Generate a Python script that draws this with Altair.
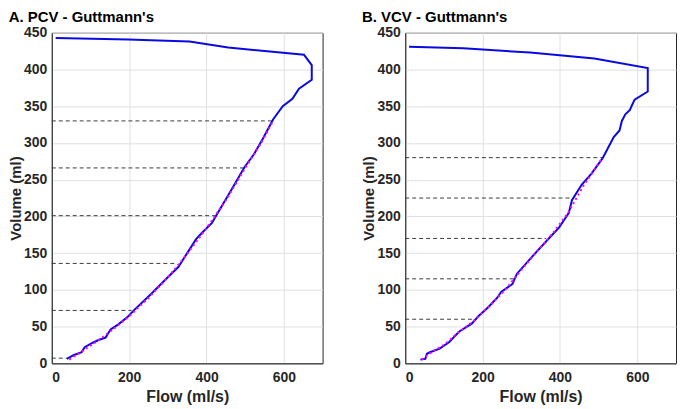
import altair as alt
import pandas as pd

# ---- Panel A: PCV - Guttmann's ----
a_flow = [39, 56, 77, 85, 106, 122, 139, 147, 152, 172, 198, 210, 258, 292, 327, 350, 373, 389,
          414, 427, 464, 498, 523, 548, 572, 597, 622, 639, 672, 672, 652, 456, 356, 197, 10]
a_vol = [6, 11, 15, 22, 28, 32, 35, 42, 46, 53, 64, 71, 95, 113, 131, 150, 169, 178,
         191, 203, 236, 267, 285, 308, 332, 350, 360, 374, 386, 406, 420, 430, 438, 441, 443]
a_fit_flow = [45, 80, 120, 160, 200, 250, 300, 350, 400, 450, 500, 540, 572]
a_fit_vol = [5, 17, 31, 47, 64, 89, 117, 149, 184, 222, 266, 299, 330]
a_dash_vol = [7, 72, 136, 201, 266, 330]
a_dash_end = [39, 206, 322, 422, 497, 572]

# ---- Panel B: VCV - Guttmann's ----
b_flow = [39, 52, 56, 64, 89, 114, 139, 172, 189, 214, 239, 248, 277, 289, 331, 373, 398, 423,
          431, 456, 481, 510, 539, 554, 560, 569, 581, 585, 593, 627, 627, 489, 323, 150, 10]
b_vol = [5, 6, 13, 15, 20, 29, 43, 54, 64, 76, 90, 97, 108, 122, 147, 171, 185, 205,
         222, 243, 258, 279, 308, 317, 330, 339, 345, 350, 359, 370, 402, 415, 423, 429, 431]
b_fit_flow = [42, 70, 100, 140, 180, 220, 260, 300, 340, 380, 420, 460, 510]
b_fit_vol = [5, 16, 25, 43, 59, 79, 101, 127, 152, 176, 204, 241, 280]
b_dash_vol = [60, 115, 170, 225, 280]
b_dash_end = [183, 283, 364, 431, 510]

FONT = "Liberation Sans"
TXT = "#262626"


def panel(title, flow, vol, fflow, fvol, dvol, dend):
    curve = pd.DataFrame({"flow": flow, "vol": vol, "i": list(range(len(flow)))})
    fit = pd.DataFrame({"flow": fflow, "vol": fvol, "i": list(range(len(fflow)))})
    dash = pd.DataFrame({"start": [0] * len(dvol), "end": dend, "vol": dvol})
    xs = alt.Scale(domain=[0, 700], nice=False, zero=False)
    ys = alt.Scale(domain=[0, 450], nice=False)
    xax = alt.Axis(values=[0, 200, 400, 600], title="Flow (ml/s)")
    yax = alt.Axis(values=list(range(0, 451, 50)), title="Volume (ml)")
    rules = alt.Chart(dash).mark_rule(color="#3a3a3a", strokeDash=[4, 3], strokeWidth=1).encode(
        x=alt.X("start:Q", scale=xs, axis=xax),
        x2="end:Q",
        y=alt.Y("vol:Q", scale=ys, axis=yax),
    )
    line = alt.Chart(curve).mark_line(color="#0a0ae0", strokeWidth=2).encode(
        x=alt.X("flow:Q", scale=xs, axis=xax),
        y=alt.Y("vol:Q", scale=ys, axis=yax),
        order="i:Q",
    )
    fitl = alt.Chart(fit).mark_line(color="#ff00ff", strokeWidth=2, strokeDash=[2, 3]).encode(
        x=alt.X("flow:Q", scale=xs, axis=xax),
        y=alt.Y("vol:Q", scale=ys, axis=yax),
        order="i:Q",
    )
    return alt.layer(rules, line, fitl).properties(
        width=272,
        height=332,
        title=alt.TitleParams(title, anchor="start", fontSize=15, fontWeight="bold",
                              font=FONT, color="#000000", offset=1),
    )


left = panel("A. PCV - Guttmann's", a_flow, a_vol, a_fit_flow, a_fit_vol, a_dash_vol, a_dash_end)
right = panel("B. VCV - Guttmann's", b_flow, b_vol, b_fit_flow, b_fit_vol, b_dash_vol, b_dash_end)

chart = alt.hconcat(left, right, spacing=38).properties(
    padding={"left": 0, "top": 0, "right": 0, "bottom": 0}
).configure_axis(
    labelFont=FONT, labelFontSize=14, labelFontWeight="bold", labelColor=TXT,
    titleFont=FONT, titleFontSize=15, titleFontWeight="bold", titleColor=TXT,
    gridColor="#e0e0e0", domainColor=TXT, ticks=False,
).configure_axisX(labelPadding=7, titlePadding=4, titleFontSize=16).configure_axisY(
    labelPadding=5, titlePadding=0
).configure_view(stroke=TXT, strokeWidth=1)

chart.save("out.html", embed_options={"renderer": "svg", "actions": False})
